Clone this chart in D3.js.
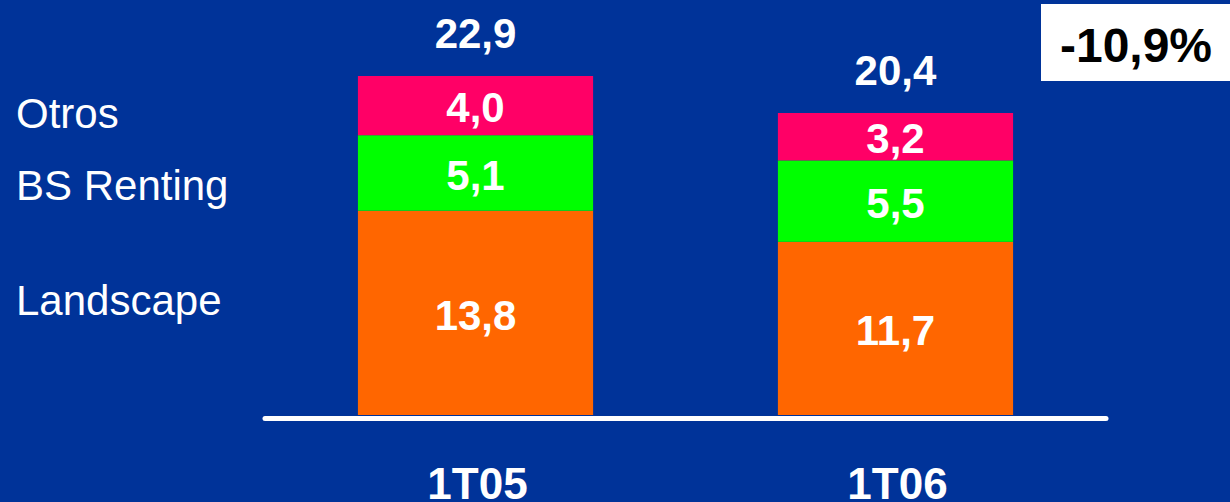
<!DOCTYPE html>
<html>
<head>
<meta charset="utf-8">
<script src="https://cdn.jsdelivr.net/npm/d3@7"></script>
<style>
  html, body { margin: 0; padding: 0; background: #003399; }
  svg { display: block; font-family: "Liberation Sans", Arial, sans-serif; }
</style>
</head>
<body>
<svg id="chart"></svg>
<script>
var periods = ["1T05", "1T06"];
var seriesNames = ["Landscape", "BS Renting", "Otros"];
var landscape = [13.8, 11.7];
var bsRenting = [5.1, 5.5];
var otros = [4.0, 3.2];
var totals = [22.9, 20.4];
var changeLabel = "-10,9%";

var colors = { "Landscape": "#ff6600", "BS Renting": "#00ff00", "Otros": "#ff0066" };

var width = 1230, height = 502;
var svg = d3.select("#chart").attr("width", width).attr("height", height);

svg.append("rect").attr("width", width).attr("height", height).attr("fill", "#003399");

var rows = periods.map(function(p, i) {
  return { period: p, "Landscape": landscape[i], "BS Renting": bsRenting[i], "Otros": otros[i], total: totals[i] };
});

var stack = d3.stack().keys(seriesNames);
var layers = stack(rows);

var x = d3.scaleBand().domain(periods).range([263, 1108])
    .paddingInner(0.44).paddingOuter(0.226);
var y = d3.scaleLinear().domain([0, 22.9]).range([415, 76]);

var fmt = function(v) { return d3.format(".1f")(v).replace(".", ","); };

var g = svg.append("g");

layers.forEach(function(layer) {
  var name = layer.key;
  g.selectAll(null)
    .data(layer)
    .enter().append("rect")
    .attr("x", function(d) { return x(d.data.period); })
    .attr("y", function(d) { return y(d[1]); })
    .attr("width", x.bandwidth())
    .attr("height", function(d) { return y(d[0]) - y(d[1]); })
    .attr("fill", colors[name]);

  g.selectAll(null)
    .data(layer)
    .enter().append("text")
    .attr("x", function(d) { return x(d.data.period) + x.bandwidth() / 2; })
    .attr("y", function(d) { return (y(d[0]) + y(d[1])) / 2; })
    .attr("dy", "0.4em")
    .attr("text-anchor", "middle")
    .attr("fill", "#fff")
    .attr("font-weight", "bold")
    .attr("font-size", 42)
    .text(function(d) { return fmt(d.data[name]); });
});

// totals above bars
g.selectAll(".total")
  .data(rows)
  .enter().append("text")
  .attr("class", "total")
  .attr("x", function(d) { return x(d.period) + x.bandwidth() / 2; })
  .attr("y", function(d) { return y(d.total) - 28; })
  .attr("text-anchor", "middle")
  .attr("fill", "#fff")
  .attr("font-weight", "bold")
  .attr("font-size", 42)
  .text(function(d) { return fmt(d.total); });

// baseline
svg.append("line")
  .attr("x1", 265).attr("x2", 1106)
  .attr("y1", 418.5).attr("y2", 418.5)
  .attr("stroke", "#fff")
  .attr("stroke-width", 5)
  .attr("stroke-linecap", "round");

// category labels
var xAxis = svg.append("g")
  .attr("transform", "translate(2,499)")
  .call(d3.axisBottom(x).tickSize(0).tickPadding(0));
xAxis.select(".domain").remove();
xAxis.selectAll("text")
  .attr("dy", 0)
  .attr("fill", "#fff")
  .attr("font-weight", "bold")
  .attr("font-size", 44)
  .attr("font-family", "Liberation Sans, Arial, sans-serif");

// legend labels on the left
var legendY = { "Otros": 128, "BS Renting": 200, "Landscape": 315 };
svg.selectAll(".legend")
  .data(seriesNames)
  .enter().append("text")
  .attr("class", "legend")
  .attr("x", 16)
  .attr("y", function(d) { return legendY[d]; })
  .attr("fill", "#fff")
  .attr("font-size", 42)
  .text(function(d) { return d; });

// change box
svg.append("rect")
  .attr("x", 1041).attr("y", 4)
  .attr("width", 189).attr("height", 77)
  .attr("fill", "#fff");
svg.append("text")
  .attr("x", 1136).attr("y", 62)
  .attr("text-anchor", "middle")
  .attr("fill", "#000")
  .attr("font-weight", "bold")
  .attr("font-size", 48)
  .text(changeLabel);
</script>
</body>
</html>
